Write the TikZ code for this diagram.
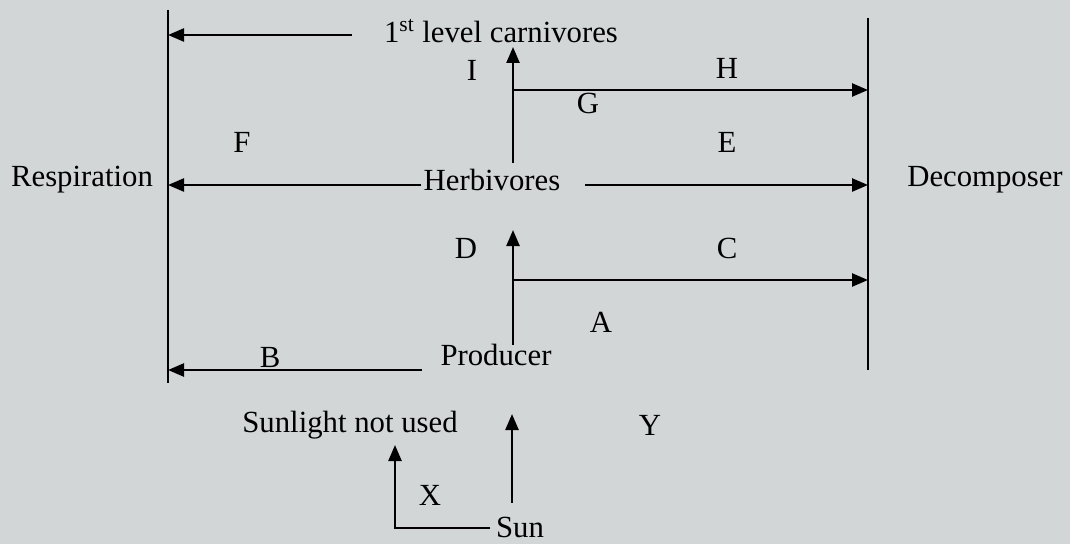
\documentclass[tikz,border=0pt]{standalone}
\usepackage{fontspec}
\setmainfont{Liberation Serif}
\usepackage{xcolor}
\usetikzlibrary{arrows.meta}
\definecolor{paper}{RGB}{210,214,214}

\begin{document}
\begin{tikzpicture}[x=0.02cm,y=-0.02cm,
    lbl/.style={inner sep=0pt,font=\fontsize{17.5}{20}\selectfont},
    flow/.style={line width=1.4pt,-{Triangle[length=0.32cm,width=0.26cm]}},
    wall/.style={line width=1.4pt}]
            % background and page size
            \fill[paper] (0,0) rectangle (1070,544);
            \useasboundingbox (0,0) rectangle (1070,544);
            % the two side bars
            \coordinate (rtop) at (168,10);
            \coordinate (rbot) at (168,383);
            \coordinate (dtop) at (868,18);
            \coordinate (dbot) at (868,370);
            \draw[wall] (rtop) -- (rbot);
            \draw[wall] (dtop) -- (dbot);
            \node[lbl] (resp) at (82,180) {Respiration};
            \node[lbl] (decomp) at (985,180) {Decomposer};
            % levels
            \node[lbl] (carn) at (501,31) {1\textsuperscript{st} level carnivores};
            \node[lbl] (herb) at (492,180) {Herbivores};
            \node[lbl] (prod) at (496,355) {Producer};
            \node[lbl] (unused) at (350,425) {Sunlight not used};
            \node[lbl] (sun) at (520,527) {Sun};
            % letters
            \node[lbl] (lI) at (472,70) {I};
            \node[lbl] (lH) at (727,68) {H};
            \node[lbl] (lG) at (588,103) {G};
            \node[lbl] (lF) at (242,142) {F};
            \node[lbl] (lE) at (727,142) {E};
            \node[lbl] (lD) at (466,248) {D};
            \node[lbl] (lC) at (727,248) {C};
            \node[lbl] (lA) at (601,322) {A};
            \node[lbl] (lB) at (270,357) {B};
            \node[lbl] (lY) at (650,425) {Y};
            \node[lbl] (lX) at (430,495) {X};
            % junctions
            \coordinate (hup) at (513,163);
            \coordinate (hjoin) at (513,90);
            \coordinate (pup) at (513,345);
            \coordinate (pjoin) at (513,280);
            \coordinate (sunup) at (512,503);
            \coordinate (sunend) at (490,528);
            \coordinate (xcorner) at (395,528);
            % to respiration
            \draw[flow] (352,35) -- (rtop |- 0,35);
            \draw[flow] (herb.west) ++(-2,5) -- (rtop |- 0,185);
            \draw[flow] (422,370) -- (rtop |- 0,370);
            % to decomposer
            \draw[flow] (hjoin) -- (dtop |- hjoin);
            \draw[flow] (585,185) -- (dtop |- 0,185);
            \draw[flow] (pjoin) -- (dtop |- pjoin);
            % up the chain
            \draw[flow] (hup) -- (513,47);
            \draw[flow] (pup) -- (513,230);
            \draw[flow] (sunup) -- (512,414);
            \draw[flow] (sunend) -- (xcorner) -- (395,445);
        \end{tikzpicture}
\end{document}
